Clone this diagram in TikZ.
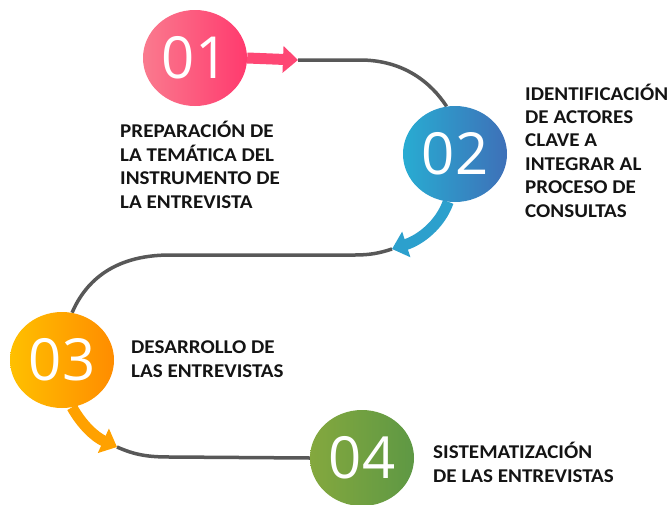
\documentclass[tikz,border=0pt]{standalone}
\usepackage{fontspec}
\setmainfont{Carlito}[FakeStretch=1.08]
\newfontfamily\numfont{Open Sans}
\usetikzlibrary{calc, shapes, backgrounds, arrows.meta}

\definecolor{pinkL}{RGB}{250,122,142}
\definecolor{pinkR}{RGB}{255,58,110}
\definecolor{blueL}{RGB}{40,172,210}
\definecolor{blueR}{RGB}{62,112,184}
\definecolor{orangeL}{RGB}{255,192,0}
\definecolor{orangeR}{RGB}{255,140,0}
\definecolor{greenL}{RGB}{132,168,62}
\definecolor{greenR}{RGB}{94,152,68}
\definecolor{roadgray}{RGB}{88,88,88}

\begin{document}
\begin{tikzpicture}[x=1pt, y=-1pt,
	stage/.style={ellipse, minimum width=104pt, minimum height=96pt, inner sep=0pt,
		text=white, font=\numfont\fontsize{58}{58}\selectfont},
	stagetext/.style={anchor=base west, align=left, inner sep=0pt, text=black!92,
		font=\bfseries\fontsize{19.5}{23.4}\selectfont},
	road/.style={draw=roadgray, line width=3.5pt},
	turn/.style={line width=11pt, -{Triangle[width=26pt, length=15pt]}}]
	\useasboundingbox (0,0) rectangle (670,504);

	\node[stage, left color=pinkL, right color=pinkR]     (S1) at (195,58)  {01};
	\node[stage, left color=blueL, right color=blueR]     (S2) at (455,154) {02};
	\node[stage, left color=orangeL, right color=orangeR] (S3) at (62,360)  {03};
	\node[stage, left color=greenL, right color=greenR]   (S4) at (362,458) {04};

	% texts sit on the baseline of their last line
	\node[stagetext] (T1) at (120,208) {PREPARACIÓN DE\\LA TEMÁTICA DEL\\INSTRUMENTO DE\\LA ENTREVISTA};
	\node[stagetext] (T2) at (525,217) {IDENTIFICACIÓN\\DE ACTORES\\CLAVE A\\INTEGRAR AL\\PROCESO DE\\CONSULTAS};
	\node[stagetext] (T3) at (131,377) {DESARROLLO DE\\LAS ENTREVISTAS};
	\node[stagetext] (T4) at (433,482) {SISTEMATIZACIÓN\\DE LAS ENTREVISTAS};

	\coordinate (E1) at (298,60);
	\coordinate (E2) at (392,249);
	\coordinate (E3) at (117,447);

	\begin{scope}[on background layer]
		% grey road between the stages
		\path[road] (E1) -- (360,60) .. controls (405,60) and (432,84) .. (S2.100);
		\path[road] (E2) .. controls (380,253) and (370,255) .. (355,255) -- (170,255)
			.. controls (110,255) and (84,285) .. (S3.78);
		\path[road] (E3) .. controls (135,455) and (148,457) .. (170,457) -- (S4.west);
		% coloured turns leaving each stage
		\draw[turn, pinkR!80!pinkL] (S1.east) -- (E1);
		\draw[turn, blueL!80!blueR] (S2.262) .. controls (440,225) and (420,240) .. (E2);
		\draw[turn, orangeR!60!orangeL] (S3.282) .. controls (82,425) and (95,437) .. (E3);
	\end{scope}
\end{tikzpicture}
\end{document}
